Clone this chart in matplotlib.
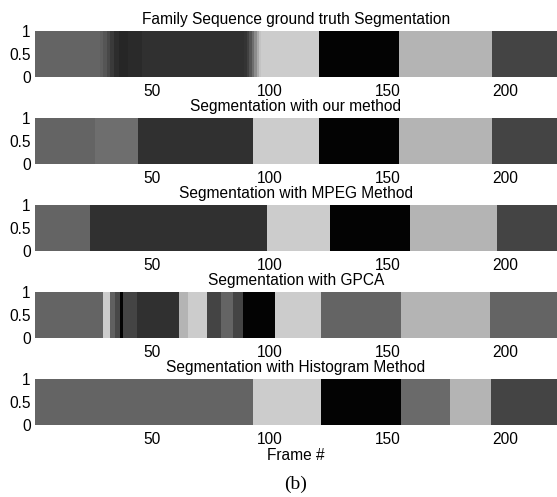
import matplotlib
matplotlib.use("Agg")
import matplotlib.pyplot as plt

plt.rcParams['font.family'] = ['Liberation Sans', 'DejaVu Sans']

# segment boundaries (frame numbers) and gray levels (0-255) for each row
titles = ["Family Sequence ground truth Segmentation",
          "Segmentation with our method",
          "Segmentation with MPEG Method",
          "Segmentation with GPCA",
          "Segmentation with Histogram Method"]

truth_edges = [0.5, 28, 29.5, 31, 32.5, 34, 36, 40, 46, 89, 90.5, 91.5, 92.5, 93.5,
               94.5, 95.5, 96.5, 121, 155, 194.5, 222]
truth_gray = [100, 95, 85, 72, 58, 45, 38, 42, 48, 52, 65, 85, 110, 140, 170, 195,
              204, 3, 180, 68]

ours_edges = [0.5, 26, 44, 93, 121, 155, 194.5, 222]
ours_gray = [100, 110, 48, 204, 3, 180, 68]

mpeg_edges = [0.5, 24, 99, 125.5, 159.7, 196.5, 222]
mpeg_gray = [100, 48, 204, 3, 180, 68]

gpca_edges = [0.5, 29.4, 32.5, 34.6, 36.7, 37.8, 43.8, 61.7, 65.5, 73.5, 79.6, 84.5,
              88.7, 102.5, 121.7, 156, 193.7, 222]
gpca_gray = [100, 204, 96, 72, 3, 68, 48, 180, 204, 68, 100, 68, 3, 204, 100, 180, 100]

hist_edges = [0.5, 93, 122, 156, 176.5, 194, 222]
hist_gray = [100, 204, 3, 106, 180, 68]

rows = [(truth_edges, truth_gray), (ours_edges, ours_gray), (mpeg_edges, mpeg_gray),
        (gpca_edges, gpca_gray), (hist_edges, hist_gray)]

xticks = [50, 100, 150, 200]
yticks = [0, 0.5, 1]
yticklabels = ["0", "0.5", "1"]

fig = plt.figure(figsize=(5.57, 4.97), dpi=100)

W, H = 557.0, 497.0
left = 35 / W
width = 1 - left
ax_h = 46 / H
tops = [31, 118, 205, 292, 379]

for i, (edges, gray) in enumerate(rows):
    ax = fig.add_axes([left, 1 - (tops[i] + 46) / H, width, ax_h])
    segs = [(edges[k], edges[k + 1] - edges[k]) for k in range(len(gray))]
    cols = [(g / 255.0,) * 3 for g in gray]
    ax.broken_barh(segs, (0, 1), facecolors=cols, edgecolor='none', linewidth=0)
    ax.set_xlim(edges[0], edges[-1])
    ax.set_ylim(0, 1)
    ax.set_xticks(xticks)
    ax.set_yticks(yticks)
    ax.set_yticklabels(yticklabels)
    ax.tick_params(length=0, labelsize=11.2)
    ax.tick_params(axis='x', pad=5)
    ax.tick_params(axis='y', pad=3)
    for s in ax.spines.values():
        s.set_visible(False)
    ax.set_title(titles[i], fontsize=11.2, pad=5)
    if i == 4:
        ax.set_xlabel("Frame #", fontsize=11.2, labelpad=1)

fig.text(0.5 + left / 2, 1 - 484 / H, "(b)", ha='center', va='center',
         family=['Liberation Serif', 'DejaVu Serif'], fontsize=14)

fig.savefig("out.png", dpi=100)
